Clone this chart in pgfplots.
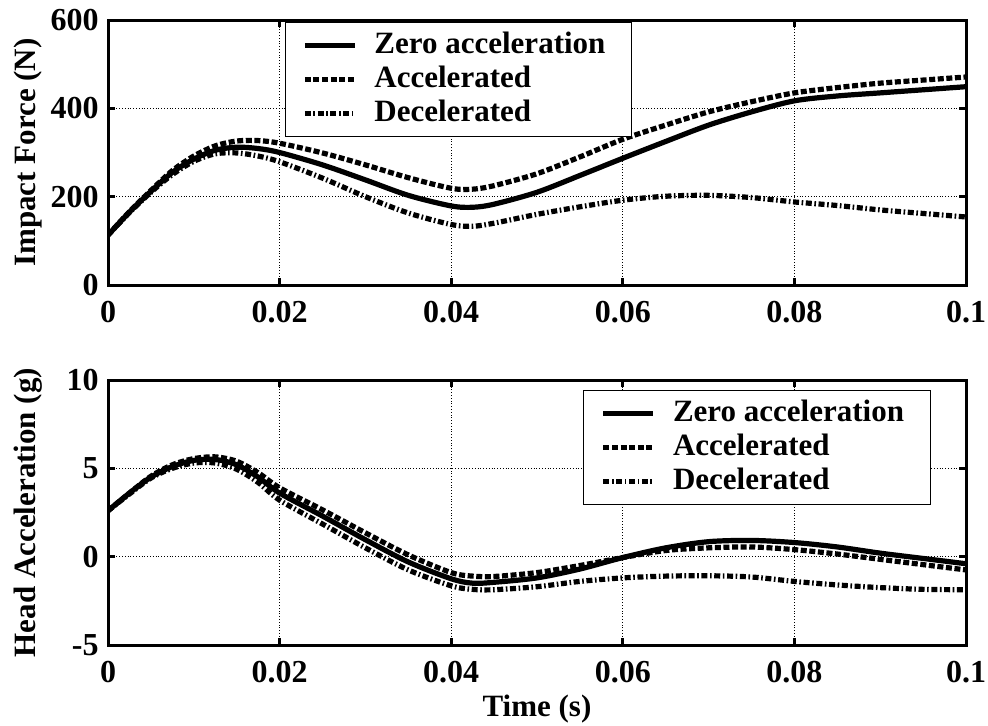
\documentclass[border=0pt]{standalone}
\usepackage{pgfplots}
\pgfplotsset{compat=1.18}
\usepackage{fontspec}
\setmainfont{Liberation Serif}
\begin{document}
\begin{tikzpicture}
\path[use as bounding box] (0pt,0pt) rectangle (494pt,362.5pt);
\pgfplotsset{
  every axis/.append style={
    scale only axis, width=429pt, height=132.5pt,
    xmin=0, xmax=0.1,
    xtick={0,0.02,0.04,0.06,0.08,0.1},
    xticklabels={0,0.02,0.04,0.06,0.08,0.1},
    grid=major,
    major grid style={densely dotted, line width=0.5pt, black},
    axis line style={line width=1.5pt},
    tick align=inside, tick pos=both, major tick length=3.5pt,
    every tick/.style={black, line width=1.5pt},
    font=\fontsize{15.5}{18}\selectfont\bfseries,
    xticklabel style={anchor=center, yshift=-13.5pt, font=\fontsize{16}{18}\selectfont\bfseries},
    yticklabel style={anchor=east, inner sep=0pt, xshift=-4.5pt, font=\fontsize{16}{18}\selectfont\bfseries},
    ylabel style={at={(axis description cs:-0.093,0.5)}, anchor=center},
    legend cell align=left,
    legend style={draw=black, line width=0.5pt, fill=white,
      inner xsep=8.5pt, inner ysep=3pt, column sep=4pt,
      nodes={inner xsep=4.5pt, inner ysep=1.5pt, text height=11pt, text depth=3pt},
      font=\fontsize{15.5}{18}\selectfont\bfseries},
    legend image code/.code={\draw[#1] (0pt,0pt) -- (25pt,0pt);},
  },
  zero/.style={black, line width=2.6pt, smooth},
  acc/.style={black, line width=2.6pt, smooth, dash pattern=on 3pt off 1.3pt},
  dec/.style={black, line width=2.6pt, smooth, dash pattern=on 3pt off 1.3pt on 0.8pt off 1.3pt},
}
% ---------- top: impact force ----------
\begin{axis}[at={(54pt,220pt)}, anchor=south west,
  ymin=0, ymax=600, ytick={0,200,400,600}, yticklabels={0,200,400,600},
  ylabel={Impact Force (N)},
  legend style={at={(0.206,0.992)}, anchor=north west}]
\addplot[zero] coordinates {
(0,113) (0.0025,165) (0.005,212) (0.0075,255) (0.01,285) (0.0125,305) (0.015,312) (0.0175,309) (0.02,300) (0.025,272) (0.03,238) (0.035,203) (0.04,179) (0.0425,176) (0.045,183) (0.05,210) (0.055,248) (0.06,287) (0.065,325) (0.07,362) (0.075,392) (0.08,417) (0.085,428) (0.09,435) (0.095,442) (0.1,449)};
\addlegendentry{Zero acceleration}
\addplot[acc] coordinates {
(0,113) (0.0025,166) (0.005,214) (0.0075,259) (0.01,292) (0.0125,315) (0.015,326) (0.0175,327) (0.02,321) (0.025,299) (0.03,272) (0.035,243) (0.04,219) (0.0425,217) (0.045,225) (0.05,252) (0.055,290) (0.06,330) (0.065,362) (0.07,392) (0.075,415) (0.08,435) (0.085,447) (0.09,457) (0.095,464) (0.1,471)};
\addlegendentry{Accelerated}
\addplot[dec] coordinates {
(0,113) (0.0025,164) (0.005,210) (0.0075,250) (0.01,280) (0.0125,297) (0.015,299) (0.0175,292) (0.02,279) (0.025,242) (0.03,200) (0.035,163) (0.04,137) (0.0425,133) (0.045,140) (0.05,160) (0.055,177) (0.06,192) (0.065,201) (0.07,203) (0.075,198) (0.08,188) (0.085,180) (0.09,170) (0.095,162) (0.1,154)};
\addlegendentry{Decelerated}
\end{axis}
% ---------- bottom: head acceleration ----------
\begin{axis}[at={(54pt,40pt)}, anchor=south west,
  ymin=-5, ymax=10, ytick={-5,0,5,10}, yticklabels={-5,0,5,10},
  ylabel={Head Acceleration (g)},
  xlabel={Time (s)},
  xlabel style={at={(axis description cs:0.5,-0.243)}, anchor=center},
  legend style={at={(0.554,0.962)}, anchor=north west}]
\addplot[zero] coordinates {
(0,2.6) (0.0025,3.6) (0.005,4.5) (0.0075,5.1) (0.01,5.45) (0.0125,5.5) (0.015,5.2) (0.0175,4.5) (0.02,3.6) (0.025,2.3) (0.03,0.96) (0.035,-0.3) (0.04,-1.25) (0.0425,-1.5) (0.045,-1.45) (0.05,-1.2) (0.055,-0.7) (0.06,-0.05) (0.065,0.5) (0.07,0.85) (0.075,0.92) (0.08,0.8) (0.085,0.55) (0.09,0.2) (0.095,-0.1) (0.1,-0.4)};
\addlegendentry{Zero acceleration}
\addplot[acc] coordinates {
(0,2.6) (0.0025,3.6) (0.005,4.55) (0.0075,5.2) (0.01,5.55) (0.0125,5.65) (0.015,5.4) (0.0175,4.75) (0.02,3.9) (0.025,2.65) (0.03,1.35) (0.035,0.1) (0.04,-0.9) (0.0425,-1.1) (0.045,-1.12) (0.05,-0.9) (0.055,-0.5) (0.06,-0.05) (0.065,0.35) (0.07,0.5) (0.075,0.55) (0.08,0.4) (0.085,0.15) (0.09,-0.15) (0.095,-0.45) (0.1,-0.75)};
\addlegendentry{Accelerated}
\addplot[dec] coordinates {
(0,2.6) (0.0025,3.55) (0.005,4.45) (0.0075,5.0) (0.01,5.3) (0.0125,5.3) (0.015,4.95) (0.0175,4.2) (0.02,3.2) (0.025,1.85) (0.03,0.5) (0.035,-0.75) (0.04,-1.65) (0.0425,-1.85) (0.045,-1.87) (0.05,-1.7) (0.055,-1.4) (0.06,-1.2) (0.065,-1.1) (0.07,-1.08) (0.075,-1.15) (0.08,-1.4) (0.085,-1.6) (0.09,-1.75) (0.095,-1.85) (0.1,-1.87)};
\addlegendentry{Decelerated}
\end{axis}
\end{tikzpicture}
\end{document}
